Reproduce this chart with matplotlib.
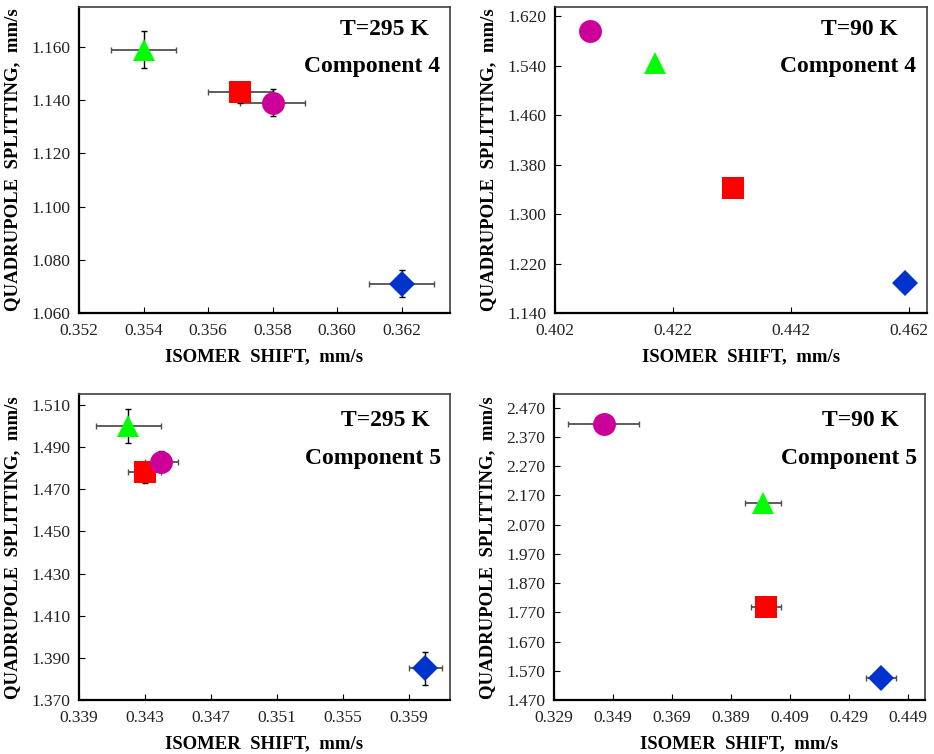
import matplotlib
matplotlib.use("Agg")
import matplotlib.pyplot as plt
from matplotlib.ticker import FormatStrFormatter

plt.rcParams['font.family'] = ['Liberation Serif', 'DejaVu Serif']

# series order in every panel: triangle, square, circle, diamond
markers = ['^', 's', 'o', 'D']
colors = ['#00ff00', '#ff0000', '#cc0099', '#0033cc']
msizes = [15.5, 15.5, 16.5, 13.5]

# panel 1: T=295 K, component 4
is_1 = [0.354, 0.357, 0.358, 0.362]
qs_1 = [1.159, 1.143, 1.139, 1.071]
xerr_1 = [0.001, 0.001, 0.001, 0.001]
yerr_1 = [0.007, 0.004, 0.005, 0.005]
xt_1 = [0.352, 0.354, 0.356, 0.358, 0.360, 0.362]
yt_1 = [1.060, 1.080, 1.100, 1.120, 1.140, 1.160]

# panel 2: T=90 K, component 4 (no visible error bars)
is_2 = [0.4190, 0.4322, 0.4080, 0.4612]
qs_2 = [1.544, 1.343, 1.597, 1.188]
xt_2 = [0.402, 0.422, 0.442, 0.462]
yt_2 = [1.140, 1.220, 1.300, 1.380, 1.460, 1.540, 1.620]

# panel 3: T=295 K, component 5
is_3 = [0.342, 0.343, 0.344, 0.360]
qs_3 = [1.500, 1.478, 1.483, 1.385]
xerr_3 = [0.002, 0.001, 0.001, 0.001]
yerr_3 = [0.008, 0.005, 0.005, 0.008]
xt_3 = [0.339, 0.343, 0.347, 0.351, 0.355, 0.359]
yt_3 = [1.370, 1.390, 1.410, 1.430, 1.450, 1.470, 1.490, 1.510]

# panel 4: T=90 K, component 5
is_4 = [0.400, 0.401, 0.346, 0.440]
qs_4 = [2.145, 1.788, 2.413, 1.546]
xerr_4 = [0.006, 0.005, 0.012, 0.005]
yerr_4 = [0.0, 0.0, 0.0, 0.0]
xt_4 = [0.329, 0.349, 0.369, 0.389, 0.409, 0.429, 0.449]
yt_4 = [1.470, 1.570, 1.670, 1.770, 1.870, 1.970, 2.070, 2.170, 2.270, 2.370, 2.470]

panels = [
    dict(pos=[0.0846, 0.5849, 0.3972, 0.4058], x=is_1, y=qs_1, xerr=xerr_1, yerr=yerr_1,
         xt=xt_1, yt=yt_1, xlim=(0.352, 0.3635), ylim=(1.060, 1.175),
         t1='T=295 K', t2='Component 4', p1=(0.822, 0.925), p2=(0.790, 0.805)),
    dict(pos=[0.5942, 0.5849, 0.3983, 0.4058], x=is_2, y=qs_2, xerr=None, yerr=None,
         xt=xt_2, yt=yt_2, xlim=(0.402, 0.465), ylim=(1.140, 1.635),
         t1='T=90 K', t2='Component 4', p1=(0.819, 0.925), p2=(0.788, 0.805)),
    dict(pos=[0.0846, 0.0716, 0.3972, 0.4053], x=is_3, y=qs_3, xerr=xerr_3, yerr=yerr_3,
         xt=xt_3, yt=yt_3, xlim=(0.339, 0.3615), ylim=(1.370, 1.515),
         t1='T=295 K', t2='Component 5', p1=(0.827, 0.916), p2=(0.792, 0.790)),
    dict(pos=[0.5928, 0.0716, 0.3979, 0.4053], x=is_4, y=qs_4, xerr=xerr_4, yerr=yerr_4,
         xt=xt_4, yt=yt_4, xlim=(0.329, 0.455), ylim=(1.470, 2.515),
         t1='T=90 K', t2='Component 5', p1=(0.826, 0.916), p2=(0.794, 0.790)),
]

fig = plt.figure(figsize=(9.34, 7.54), dpi=100)

for p in panels:
    ax = fig.add_axes(p['pos'])
    if p['xerr'] is not None:
        # horizontal bars grey, vertical bars black, both under the markers
        ax.errorbar(p['x'], p['y'], xerr=p['xerr'], fmt='none', ecolor='#505050',
                    elinewidth=1.3, capsize=2.5, capthick=1.0, zorder=2)
        ax.errorbar(p['x'], p['y'], yerr=p['yerr'], fmt='none', ecolor='black',
                    elinewidth=1.0, capsize=2.5, capthick=1.0, zorder=2)
    for i in range(4):
        ax.plot(p['x'][i], p['y'][i], marker=markers[i], color=colors[i],
                markersize=msizes[i], linestyle='none', markeredgewidth=0, zorder=3)
    ax.set_xlim(*p['xlim'])
    ax.set_ylim(*p['ylim'])
    ax.set_xticks(p['xt'])
    ax.set_yticks(p['yt'])
    ax.xaxis.set_major_formatter(FormatStrFormatter('%.3f'))
    ax.yaxis.set_major_formatter(FormatStrFormatter('%.3f'))
    ax.tick_params(direction='in', length=4, width=0.8, labelsize=12.5,
                   colors='black', labelcolor='#222222')
    ax.tick_params(axis='x', pad=7)
    ax.tick_params(axis='y', pad=6)
    for s in ['left', 'bottom']:
        ax.spines[s].set_linewidth(1.6)
        ax.spines[s].set_color('black')
    for s in ['top', 'right']:
        ax.spines[s].set_linewidth(1.2)
        ax.spines[s].set_color('#404040')
    ax.set_xlabel('ISOMER  SHIFT,  mm/s', fontsize=13.5, fontweight='bold')
    ax.set_ylabel('QUADRUPOLE  SPLITTING,  mm/s', fontsize=13.5, fontweight='bold')
    ax.yaxis.set_label_coords(-0.155, 0.5)
    ax.xaxis.set_label_coords(0.5, -0.115)
    ax.text(p['p1'][0], p['p1'][1], p['t1'], transform=ax.transAxes, ha='center',
            va='center', fontsize=17, fontweight='bold')
    ax.text(p['p2'][0], p['p2'][1], p['t2'], transform=ax.transAxes, ha='center',
            va='center', fontsize=17, fontweight='bold')

fig.savefig('out.png', dpi=100)
